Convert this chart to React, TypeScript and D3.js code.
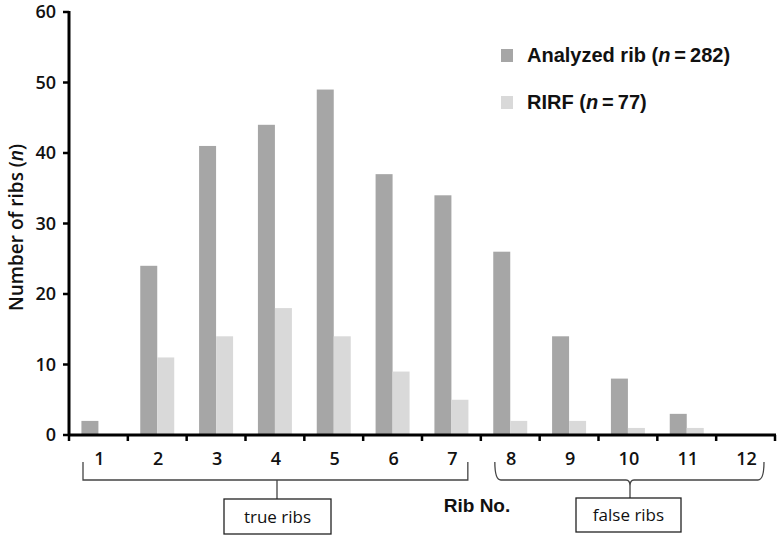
import React from "react";
import * as d3 from "d3";

const ribs = ["1", "2", "3", "4", "5", "6", "7", "8", "9", "10", "11", "12"];
const analyzed = [2, 24, 41, 44, 49, 37, 34, 26, 14, 8, 3, 0];
const rirf = [0, 11, 14, 18, 14, 9, 5, 2, 2, 1, 1, 0];
const yTicks = [0, 10, 20, 30, 40, 50, 60];
const seriesNames = ["Analyzed rib", "RIRF"];
const seriesN = [282, 77];
const colors = ["#a6a6a6", "#d9d9d9"];

const W = 780;
const H = 536;
const left = 69;
const right = 775;
const top = 12;
const bottom = 435;
const tickFont = "'Open Sans', 'DejaVu Sans', sans-serif";
const boldFont = "'Liberation Sans', Arial, sans-serif";

export default function App() {
  const x = d3.scaleBand<string>().domain(ribs).range([left, right]);
  const y = d3.scaleLinear().domain([0, 60]).range([bottom, top]);
  const barW = 17;
  const bw = x.bandwidth();

  const trueL = x("1")! + 14;
  const trueR = x("7")! + bw - 13;
  const falseL = x("8")! + 14;
  const falseR = x("12")! + bw - 11;
  const trueC = 277;
  const falseC = 630;
  const bTop = 462;
  const bY = 480;

  return (
    <svg width={W} height={H} style={{ position: "absolute", left: 0, top: 0, background: "#fff" }}>
      {/* bars */}
      {ribs.map((r, i) => {
        const c = x(r)! + bw / 2;
        return (
          <g key={r}>
            {analyzed[i] > 0 && (
              <rect x={c - barW} y={y(analyzed[i])} width={barW} height={bottom - y(analyzed[i])} fill={colors[0]} />
            )}
            {rirf[i] > 0 && (
              <rect x={c} y={y(rirf[i])} width={barW} height={bottom - y(rirf[i])} fill={colors[1]} />
            )}
          </g>
        );
      })}
      {/* y axis */}
      <line x1={left} x2={left} y1={top - 1} y2={bottom + 1} stroke="#000" strokeWidth={3} />
      {yTicks.map((t) => (
        <g key={t}>
          <line x1={left - 6} x2={left} y1={y(t)} y2={y(t)} stroke="#000" strokeWidth={2.5} />
          <text x={56} y={y(t)} dy="0.35em" textAnchor="end" fontFamily={tickFont} fontWeight={600} fontSize={18} fill="#111">
            {t}
          </text>
        </g>
      ))}
      {/* x axis */}
      <line x1={left - 1} x2={right + 1} y1={bottom} y2={bottom} stroke="#000" strokeWidth={3} />
      {ribs.map((r) => (
        <line key={"t" + r} x1={x(r)!} x2={x(r)!} y1={bottom} y2={bottom + 6} stroke="#000" strokeWidth={2.5} />
      ))}
      <line x1={right} x2={right} y1={bottom} y2={bottom + 6} stroke="#000" strokeWidth={2.5} />
      {ribs.map((r) => (
        <text key={"l" + r} x={x(r)! + bw / 2 + 1} y={459} dy="0.35em" textAnchor="middle" fontFamily={tickFont} fontWeight={600} fontSize={18} fill="#111">
          {r}
        </text>
      ))}
      {/* axis titles */}
      <text
        transform={`translate(16,${(top + bottom) / 2 + 4}) rotate(-90)`}
        textAnchor="middle"
        dy="0.35em"
        fontFamily={tickFont}
        fontWeight={600}
        fontSize={19}
        fill="#111"
      >
        Number of ribs (<tspan fontStyle="italic">n</tspan>)
      </text>
      <text x={477} y={505} dy="0.35em" textAnchor="middle" fontFamily={boldFont} fontWeight={700} fontSize={19} fill="#111">
        Rib No.
      </text>
      {/* true ribs bracket */}
      <path
        d={`M${trueL},${bTop} V${bY} H${trueR} V${bTop} M${trueC},${bY} V${499}`}
        fill="none"
        stroke="#444"
        strokeWidth={1.3}
      />
      <rect x={224} y={499} width={107} height={35} fill="#fff" stroke="#222" strokeWidth={1.3} />
      <text x={277.5} y={517} dy="0.35em" textAnchor="middle" fontFamily={tickFont} fontSize={17} fill="#111">
        true ribs
      </text>
      {/* false ribs bracket */}
      <path
        d={`M${falseL},${bTop} Q${falseL},${bY} ${falseL + 6},${bY} H${falseC - 4} Q${falseC},${bY} ${falseC},${bY + 6} V${498} M${falseC},${bY + 6} Q${falseC},${bY} ${falseC + 4},${bY} H${falseR - 6} Q${falseR},${bY} ${falseR},${bTop}`}
        fill="none"
        stroke="#444"
        strokeWidth={1.3}
      />
      <rect x={576} y={498} width={105} height={34} fill="#fff" stroke="#222" strokeWidth={1.3} />
      <text x={628.5} y={515} dy="0.35em" textAnchor="middle" fontFamily={tickFont} fontSize={17} fill="#111">
        false ribs
      </text>
      {/* legend */}
      {seriesNames.map((s, i) => (
        <g key={s}>
          <rect x={501} y={49 + i * 47} width={12} height={13} fill={colors[i]} />
          <text x={527} y={62 + i * 47} fontFamily={boldFont} fontWeight={700} fontSize={20} fill="#111">
            {s} (<tspan fontStyle="italic">n</tspan>
            {"\u2009=\u2009"}
            {seriesN[i]})
          </text>
        </g>
      ))}
    </svg>
  );
}
